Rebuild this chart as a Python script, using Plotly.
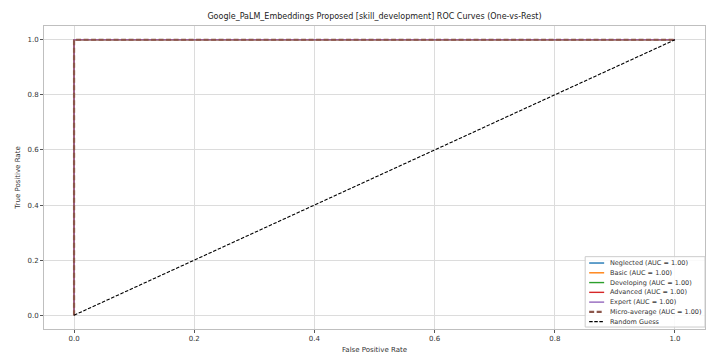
import plotly.graph_objects as go

classes = ["Neglected", "Basic", "Developing", "Advanced", "Expert"]
class_auc = [1.00, 1.00, 1.00, 1.00, 1.00]
class_fpr = [[0.0, 0.0, 1.0]] * 5
class_tpr = [[0.0, 1.0, 1.0]] * 5
colors = ["#1f77b4", "#ff7f0e", "#2ca02c", "#d62728", "#9467bd"]
micro_fpr = [0.0, 0.0, 1.0]
micro_tpr = [0.0, 1.0, 1.0]
micro_auc = 1.00
random_x = [0.0, 1.0]
random_y = [0.0, 1.0]
tick_vals = [0.0, 0.2, 0.4, 0.6, 0.8, 1.0]
tick_text = ["0.0", "0.2", "0.4", "0.6", "0.8", "1.0"]

W, H = 710, 356
ML, MR, MT, MB = 44, 4, 26, 20
PW, PH = W - ML - MR, H - MT - MB

MICRO_DASH = "5px,2.5px"
RANDOM_DASH = "3.5px,1.6px"


def px_x(p):
    return (p - ML) / PW


def px_y(p):
    return (H - MB - p) / PH


fig = go.Figure()
legend_items = []
for name, fpr, tpr, auc, c in zip(classes, class_fpr, class_tpr, class_auc, colors):
    fig.add_trace(go.Scatter(x=fpr, y=tpr, mode="lines",
                             name=f"{name} (AUC = {auc:.2f})",
                             line=dict(color=c, width=1.2)))
    legend_items.append((f"{name} (AUC = {auc:.2f})", c, 1.4, "solid"))
fig.add_trace(go.Scatter(x=micro_fpr, y=micro_tpr, mode="lines",
                         name=f"Micro-average (AUC = {micro_auc:.2f})",
                         line=dict(color="#8c564b", width=2.2, dash=MICRO_DASH)))
legend_items.append((f"Micro-average (AUC = {micro_auc:.2f})", "#8c564b", 2.2, MICRO_DASH))
fig.add_trace(go.Scatter(x=random_x, y=random_y, mode="lines",
                         name="Random Guess",
                         line=dict(color="black", width=1.1, dash=RANDOM_DASH)))
legend_items.append(("Random Guess", "black", 1.1, RANDOM_DASH))

# manual compact legend (matplotlib-like)
box_l, box_r, box_t, box_b = 586, 706, 262, 334
fig.add_shape(type="rect", xref="paper", yref="paper",
              x0=px_x(box_l), x1=px_x(box_r), y0=px_y(box_b), y1=px_y(box_t),
              line=dict(color="#cccccc", width=1), fillcolor="rgba(255,255,255,0.85)",
              layer="above")
row0, row_h = 268.5, 10.0
for i, (label, c, w, d) in enumerate(legend_items):
    yc = row0 + i * row_h
    fig.add_shape(type="line", xref="paper", yref="paper",
                  x0=px_x(590), x1=px_x(605), y0=px_y(yc), y1=px_y(yc),
                  line=dict(color=c, width=w, dash=d),
                  layer="above")
    fig.add_annotation(xref="paper", yref="paper", x=px_x(609), y=px_y(yc),
                       xanchor="left", yanchor="middle", text=label, showarrow=False,
                       font=dict(size=6.5, color="#333333", family="DejaVu Sans"))

axis_common = dict(
    tickvals=tick_vals, ticktext=tick_text,
    showgrid=True, gridcolor="#dcdcdc", gridwidth=1,
    zeroline=False, showline=True, linecolor="#bfbfbf", linewidth=1, mirror=True,
    ticks="outside", ticklen=3, tickcolor="#555555", tickwidth=1,
    tickfont=dict(size=7, color="#333333", family="DejaVu Sans"),
)
fig.update_xaxes(range=[-0.05, 1.05], title=dict(text="False Positive Rate", font=dict(size=7, color="#333333"), standoff=4), **axis_common)
fig.update_yaxes(range=[-0.05, 1.05], title=dict(text="True Positive Rate", font=dict(size=7, color="#333333"), standoff=6), **axis_common)

fig.update_layout(
    width=W, height=H,
    margin=dict(l=ML, r=MR, t=MT, b=MB),
    paper_bgcolor="white", plot_bgcolor="white",
    font=dict(family="DejaVu Sans", size=7, color="#333333"),
    title=dict(text="Google_PaLM_Embeddings Proposed [skill_development] ROC Curves (One-vs-Rest)",
               x=0.5, xref="paper", xanchor="center", y=0.955, yanchor="middle",
               font=dict(size=8, color="#222222")),
    showlegend=False,
)

fig.write_html("out.html")
